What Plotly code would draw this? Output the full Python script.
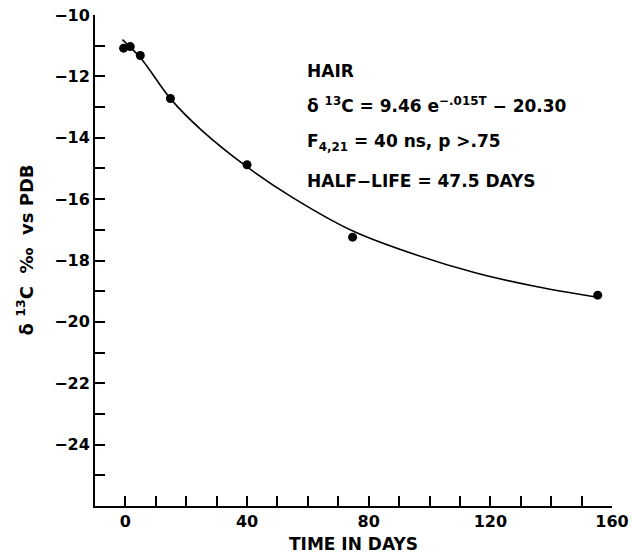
import plotly.graph_objects as go

# observed data points (time in days, delta13C)
days = [-0.6, 1.6, 4.9, 14.8, 40.0, 74.7, 155.3]
d13c = [-11.08, -11.03, -11.32, -12.72, -14.88, -17.24, -19.13]

# fitted curve
curve_days = [-1, 5, 15, 25, 40, 55, 75, 95, 115, 135, 155]
curve_d13c = [-10.8, -11.4, -12.75, -13.75, -14.95, -15.95, -17.05, -17.8, -18.4, -18.85, -19.2]

x_ticks = list(range(-10, 161, 10))
x_labels = ["0", "40", "80", "120", "160"]
y_ticks = list(range(-26, -9))
y_labels = ["−10", "−12", "−14", "−16", "−18", "−20", "−22", "−24"]

FONT = "DejaVu Sans, Liberation Sans, sans-serif"

def xtext(v):
    s = str(v)
    return "<b>" + s + "</b>" if s in x_labels else ""

def ytext(v):
    s = "−" + str(-v)
    return "<b>" + s + "</b>" if s in y_labels else ""

fig = go.Figure()
fig.add_trace(go.Scatter(x=curve_days, y=curve_d13c, mode="lines",
                         line=dict(color="black", width=1.6, shape="spline"),
                         showlegend=False, hoverinfo="skip"))
fig.add_trace(go.Scatter(x=days, y=d13c, mode="markers",
                         marker=dict(color="black", size=9),
                         showlegend=False))

fig.update_xaxes(range=[-10, 160], tickvals=x_ticks, ticktext=[xtext(v) for v in x_ticks],
                 ticks="inside", ticklen=10, tickwidth=1.5, tickcolor="black",
                 showline=True, linewidth=2, linecolor="black", showgrid=False, zeroline=False,
                 automargin=False, ticklabeloverflow="allow",
                 tickfont=dict(family=FONT, size=16, color="black"),
                 title=dict(text="<b>TIME IN DAYS</b>", font=dict(family=FONT, size=17, color="black"), standoff=8))
fig.update_yaxes(range=[-26, -10], tickvals=y_ticks, ticktext=[ytext(v) for v in y_ticks],
                 ticks="inside", ticklen=10, tickwidth=1.5, tickcolor="black",
                 showline=True, linewidth=2, linecolor="black", showgrid=False, zeroline=False,
                 automargin=False, ticklabeloverflow="allow",
                 tickfont=dict(family=FONT, size=16, color="black"))

fig.add_annotation(text="<b>δ <sup>13</sup>C  ‰  vs PDB</b>", textangle=-90,
                   xref="paper", yref="paper", x=-0.135, y=0.521, showarrow=False,
                   xanchor="center", yanchor="middle",
                   font=dict(family=FONT, size=18, color="black"))

ann_font = dict(family=FONT, size=17, color="black")
lines = [
    ("<b>HAIR</b>", -11.82),
    ("<b>δ <sup>13</sup>C = 9.46 e<sup>−.015T</sup> − 20.30</b>", -12.93),
    ("<b>F<sub>4,21</sub> = 40 ns, p >.75</b>", -14.15),
    ("<b>HALF−LIFE = 47.5 DAYS</b>", -15.4),
]
for t, yv in lines:
    fig.add_annotation(text=t, x=59.2, y=yv, xref="x", yref="y", xanchor="left",
                       yanchor="middle", showarrow=False, font=ann_font)

fig.update_layout(width=632, height=555, margin=dict(l=95, r=20, t=15, b=49, autoexpand=False),
                  plot_bgcolor="white", paper_bgcolor="white")
fig.write_html("out.html", config={"displayModeBar": False},
               post_script="document.body.style.margin='0';document.body.style.overflow='hidden';")
